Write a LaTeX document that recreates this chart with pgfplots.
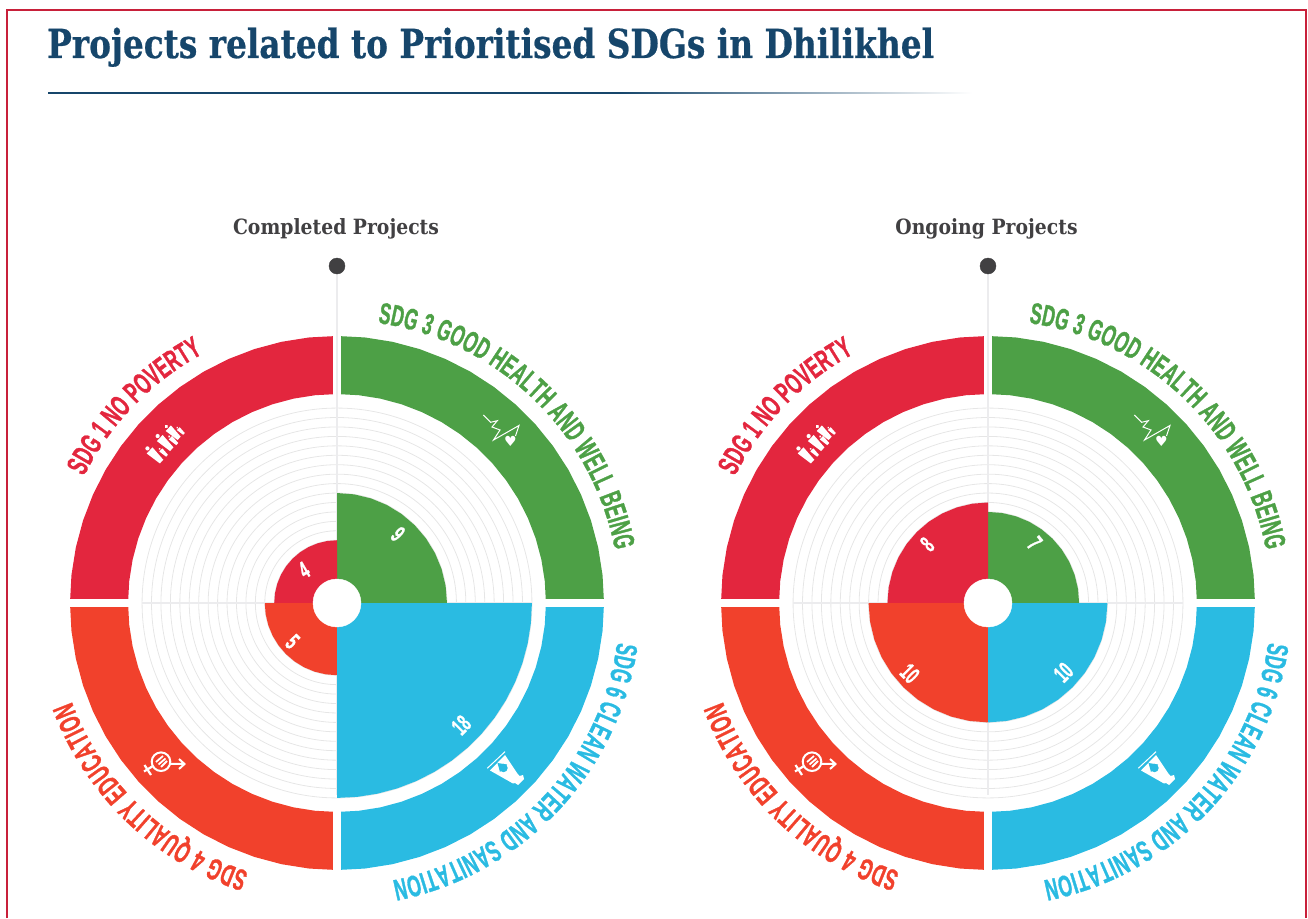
\documentclass[border=0pt]{standalone}
\usepackage{pgfplots}
\pgfplotsset{compat=1.18}
\usepackage{pgfplotstable}
\usepgfplotslibrary{polar}
\usetikzlibrary{decorations.text}
\usepackage{fontspec}
\setmainfont{Liberation Sans}
\newfontfamily\titlefont[FakeStretch=0.82,FakeBold=0.5,UprightFont=* Bold]{DejaVu Serif}
\newfontfamily\subfont[FakeStretch=0.895,UprightFont=* Bold]{DejaVu Serif}
\newfontfamily\lblfont[FakeStretch=0.58,FakeBold=1,UprightFont=* Bold]{Liberation Sans}
\newfontfamily\symfont{DejaVu Sans}
\definecolor{sdgred}{HTML}{E3263E}
\definecolor{sdggreen}{HTML}{4DA046}
\definecolor{sdgorange}{HTML}{F1412C}
\definecolor{sdgblue}{HTML}{2ABBE2}
\definecolor{titleblue}{HTML}{16466B}
\definecolor{darkgrey}{HTML}{414042}
\definecolor{ringgrey}{HTML}{E6E6E6}
\definecolor{spokegrey}{HTML}{ECECEE}
\definecolor{framered}{HTML}{C8203A}

% outer bands, radius in the same units as the project counts
\pgfplotstableread{
a r
0 22.56
6 22.56
12 22.56
18 22.56
24 22.56
30 22.56
36 22.56
42 22.56
48 22.56
54 22.56
60 22.56
66 22.56
72 22.56
78 22.56
84 22.56
90 22.56
}\bandgreen
\pgfplotstableread{
a r
90 22.56
96 22.56
102 22.56
108 22.56
114 22.56
120 22.56
126 22.56
132 22.56
138 22.56
144 22.56
150 22.56
156 22.56
162 22.56
168 22.56
174 22.56
180 22.56
}\bandred
\pgfplotstableread{
a r
180 22.56
186 22.56
192 22.56
198 22.56
204 22.56
210 22.56
216 22.56
222 22.56
228 22.56
234 22.56
240 22.56
246 22.56
252 22.56
258 22.56
264 22.56
270 22.56
}\bandorange
\pgfplotstableread{
a r
270 22.56
276 22.56
282 22.56
288 22.56
294 22.56
300 22.56
306 22.56
312 22.56
318 22.56
324 22.56
330 22.56
336 22.56
342 22.56
348 22.56
354 22.56
360 22.56
}\bandblue

\tikzset{count/.style={text=white, font=\lblfont\fontsize{24}{24}\selectfont, inner sep=0pt}}
\pgfplotsset{
  donut/.style={
    at={#1}, anchor=center,
    scale only axis, width=616.4pt, height=616.4pt,
    clip=false,
    y coord trafo/.code={\pgfmathparse{##1+2.65}},
    y coord inv trafo/.code={\pgfmathparse{##1-2.65}},
    xmin=0, xmax=360, ymin=-2.65, ymax=30,
    xtick=\empty, ytick={1,...,18}, yticklabels={},
    ymajorgrids=true, xmajorgrids=false,
    major grid style={ringgrey, line width=0.8pt},
    major tick length=0pt,
    axis line style={draw=none},
  },
  band/.style={draw=#1, line width=58pt, line cap=butt, no markers},
  gap/.style={draw=white, line width=7.6pt, no markers},
  spoke/.style={draw=spokegrey, line width=1.2pt, no markers},
}

% the four bands, the white gaps and the axes' spokes, the same in both charts
\newcommand\frameparts{%
  \addplot[band=sdggreen] table[x=a,y=r] {\bandgreen};
  \addplot[band=sdgred] table[x=a,y=r] {\bandred};
  \addplot[band=sdgorange] table[x=a,y=r] {\bandorange};
  \addplot[band=sdgblue] table[x=a,y=r] {\bandblue};
  \addplot[gap] coordinates {(90,19) (90,26.5)};
  \addplot[gap] coordinates {(270,19) (270,26.5)};
  \addplot[gap] coordinates {(0,19) (0,26.5)};
  \addplot[gap] coordinates {(180,19) (180,26.5)};
  \addplot[spoke] coordinates {(90,0) (90,33.05)};
  \addplot[spoke] coordinates {(270,0) (270,17.7)};
  \addplot[spoke] coordinates {(0,0) (0,18)};
  \addplot[spoke] coordinates {(180,0) (180,18)};
  \addplot[only marks, mark=*, mark size=8pt, color=darkgrey] coordinates {(90,33.05)};
}
\newcommand\hole{%
  \addplot[only marks, mark=*, mark size=24pt, color=white] coordinates {(0,-2.65)};
}

% curved band titles and icons, one chart at centre x=#1
\newcommand\arclabel[5]{% cx, start, end, colour, text
  \path[decorate, decoration={text along path, text align={fit to path},
      text={|\lblfont\fontsize{30}{30}\selectfont\color{#4}|#5}}]
    (#1,315) ++(#2:283) arc[start angle=#2, end angle=#3, radius=283];
}
\newcommand\person[3]{% x, y along the band, height
  \fill[white] (#1,#2+#3*0.42) circle[radius=#3*0.1];
  \fill[white] (#1-#3*0.2,#2+#3*0.28) -- (#1+#3*0.2,#2+#3*0.28)
     -- (#1+#3*0.12,#2-#3*0.5) -- (#1-#3*0.12,#2-#3*0.5) -- cycle;
}
\newcommand\icons[1]{%
  % family
  \begin{scope}[shift={(#1-171.5,315+161)}, rotate=47]
    \person{-17}{0}{21}\person{-9}{-5}{11}\person{-1}{1}{21}\person{6.5}{-4}{12}\person{12}{2}{19}\person{18.5}{-3}{10}
  \end{scope}
  % heart rate
  \begin{scope}[shift={(#1,315)}]
    \draw[white, line width=1pt, line join=miter] (146.3,188) -- (153.7,180.7) -- (160.3,182.3) -- (155,176) -- (163,173) -- (156.5,163) -- (182,177.5) -- (178.5,167);
    \node[text=white, font=\symfont\fontsize{14}{14}\selectfont, inner sep=0pt] at (173.5,162) {♥};
  \end{scope}
  % water bottle
  \begin{scope}[shift={(#1,315)}]
    \draw[white, line width=1pt] (150.3,-165.3) -- (168,-148.7);
    \fill[white] (153,-167.5) -- (168,-152) -- (180,-170) -- (182.5,-173) -- (186,-172) -- (187,-176) -- (181,-182) -- (178,-180) -- (176,-180.5) -- cycle;
    \fill[sdgblue] (166.5,-165) circle[radius=4.2];
    \fill[sdgblue] (160.5,-160) -- (170,-161.5) -- (163,-169) -- cycle;
  \end{scope}
  % gender equality
  \begin{scope}[shift={(#1,315)}]
    \draw[white, line width=2pt] (-176,-158.7) circle[radius=9.3];
    \draw[white, line width=2pt] (-167,-161) -- (-153,-161) (-158,-156) -- (-152.5,-161) -- (-158,-166);
    \draw[white, line width=2.2pt] (-184,-163) -- (-193,-168.5) (-192.5,-162) -- (-186,-172);
    \draw[white, line width=1.8pt] (-181,-159) -- (-174,-153) (-178.5,-161.5) -- (-171.5,-155.5) (-176,-164) -- (-170,-158);
  \end{scope}
}

\begin{document}
\begin{tikzpicture}[x=1pt, y=1pt]
\path[use as bounding box] (0,0) rectangle (1308,918);
\draw[framered, line width=2.2pt] (7.2,0) -- (7.2,908) -- (1306.3,908) -- (1306.3,0);
\node[anchor=base west, inner sep=0pt, text=titleblue, font=\titlefont\fontsize{40}{40}\selectfont] at (47,860) {Projects related to Prioritised SDGs in Dhilikhel};
\fill[titleblue] (47.5,824) rectangle (620,825.8);
\shade[left color=titleblue, right color=white] (620,824) rectangle (972,825.8);
\node[anchor=base, inner sep=0pt, text=darkgrey, font=\subfont\fontsize{21}{21}\selectfont] at (336,683) {Completed Projects};
\node[anchor=base, inner sep=0pt, text=darkgrey, font=\subfont\fontsize{21}{21}\selectfont] at (986.5,683) {Ongoing Projects};

\begin{polaraxis}[donut={(337pt,315pt)}]
  \frameparts
  \addplot[fill=sdggreen, draw=none] coordinates {(0,-2.65) (0,9) (9,9) (18,9) (27,9) (36,9) (45,9) (54,9) (63,9) (72,9) (81,9) (90,9)};
  \addplot[fill=sdgred, draw=none] coordinates {(90,-2.65) (90,4) (99,4) (108,4) (117,4) (126,4) (135,4) (144,4) (153,4) (162,4) (171,4) (180,4)};
  \addplot[fill=sdgorange, draw=none] coordinates {(180,-2.65) (180,5) (189,5) (198,5) (207,5) (216,5) (225,5) (234,5) (243,5) (252,5) (261,5) (270,5)};
  \addplot[fill=sdgblue, draw=none] coordinates {(270,-2.65) (270,18) (276,18) (282,18) (288,18) (294,18) (300,18) (306,18) (312,18) (318,18) (324,18) (330,18) (336,18) (342,18) (348,18) (354,18) (360,18)};
  \hole
  \node[count, rotate=-45] at (axis cs:48.5,7.1) {9};
  \node[count, rotate=30] at (axis cs:135,2.3) {4};
  \node[count, rotate=-45] at (axis cs:221,3.6) {5};
  \node[count, rotate=45] at (axis cs:-44.5,15.8) {18};
\end{polaraxis}

\begin{polaraxis}[donut={(988pt,315pt)}]
  \frameparts
  \addplot[fill=sdggreen, draw=none] coordinates {(0,-2.65) (0,7) (9,7) (18,7) (27,7) (36,7) (45,7) (54,7) (63,7) (72,7) (81,7) (90,7)};
  \addplot[fill=sdgred, draw=none] coordinates {(90,-2.65) (90,8) (99,8) (108,8) (117,8) (126,8) (135,8) (144,8) (153,8) (162,8) (171,8) (180,8)};
  \addplot[fill=sdgorange, draw=none] coordinates {(180,-2.65) (180,10) (189,10) (198,10) (207,10) (216,10) (225,10) (234,10) (243,10) (252,10) (261,10) (270,10)};
  \addplot[fill=sdgblue, draw=none] coordinates {(270,-2.65) (270,10) (279,10) (288,10) (297,10) (306,10) (315,10) (324,10) (333,10) (342,10) (351,10) (360,10)};
  \hole
  \node[count, rotate=-50] at (axis cs:52,5.4) {7};
  \node[count, rotate=45] at (axis cs:136,6.3) {8};
  \node[count, rotate=-45] at (axis cs:222,8.5) {10};
  \node[count, rotate=45] at (axis cs:-42.6,8.2) {10};
\end{polaraxis}

\foreach \cx in {337,988}{
  \arclabel{\cx}{81.7}{10.8}{sdggreen}{SDG 3 GOOD HEALTH AND WELL BEING}
  \arclabel{\cx}{-8}{-78.7}{sdgblue}{SDG 6 CLEAN WATER AND SANITATION}
  \arclabel{\cx}{-108.2}{-159.6}{sdgorange}{SDG 4 QUALITY EDUCATION}
  \arclabel{\cx}{153.4}{118.3}{sdgred}{SDG 1 NO POVERTY}
  \icons{\cx}
}
\end{tikzpicture}
\end{document}
